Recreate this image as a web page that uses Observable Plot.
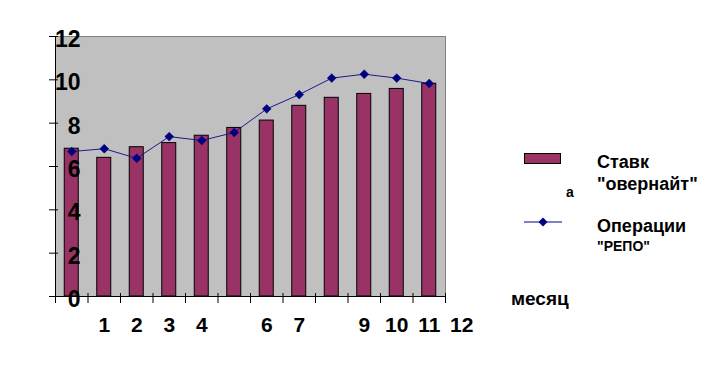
<!DOCTYPE html>
<html>
<head>
<meta charset="utf-8">
<script src="https://cdn.jsdelivr.net/npm/d3@7"></script>
<script src="https://cdn.jsdelivr.net/npm/@observablehq/plot@0.6"></script>
<style>
  html, body { margin: 0; padding: 0; background: #fff; }
  #wrap { position: relative; width: 707px; height: 389px; font-family: "Liberation Sans", Arial, sans-serif; font-weight: bold; color: #000; }
  .t { position: absolute; white-space: nowrap; line-height: 1; }
</style>
</head>
<body>
<div id="wrap"></div>
<script>
// ---- data ----
const months = [0, 1, 2, 3, 4, 5, 6, 7, 8, 9, 10, 11];
const overnight = [6.82, 6.40, 6.89, 7.08, 7.42, 7.78, 8.12, 8.80, 9.17, 9.35, 9.58, 9.82];
const repo = [6.69, 6.82, 6.38, 7.38, 7.20, 7.57, 8.66, 9.32, 10.08, 10.26, 10.08, 9.83];
const xTickLabels = [1, 2, 3, 4, 6, 7, 9, 10, 11, 12];
const yTicks = [0, 2, 4, 6, 8, 10, 12];
const seriesNames = ["Ставк", "\"овернайт\"", "Операции", "\"РЕПО\""];
const xTitle = "месяц";

const rows = months.map((m, i) => ({m, overnight: overnight[i], repo: repo[i]}));
const boundaries = d3.range(months.length + 1).map(i => i - 0.5);

const plot = Plot.plot({
  width: 707,
  height: 389,
  marginLeft: 55,
  marginRight: 262,
  marginTop: 36,
  marginBottom: 93,
  style: {background: "transparent", fontFamily: "Liberation Sans, Arial, sans-serif"},
  x: {type: "linear", domain: [-0.5, 11.5]},
  y: {domain: [0, 12]},
  marks: [
    Plot.frame({fill: "#c0c0c0", stroke: "#808080"}),
    Plot.rectY(rows, {x1: d => d.m - 0.5, x2: d => d.m + 0.5, y1: 0, y2: "overnight",
      fill: "#993366", stroke: "#000", strokeWidth: 1, insetLeft: 9.25, insetRight: 9.25}),
    Plot.ruleX([-0.5], {stroke: "#000"}),
    Plot.ruleY([0], {stroke: "#000"}),
    Plot.line(rows, {x: "m", y: "repo", stroke: "#1a1a8c", strokeWidth: 1}),
    Plot.dot(rows, {x: "m", y: "repo", symbol: "diamond2", r: 4, fill: "#000080", stroke: "#000080", strokeWidth: 0.5}),
    // y axis ticks (crossing the axis line) and labels
    Plot.axisY({ticks: yTicks, tickSize: 9, dx: 3, tickFormat: () => "", stroke: "#000"}),
    Plot.axisY({ticks: yTicks, tickSize: 0, tickPadding: -25, dy: 3, fontSize: 23, fontWeight: "bold", fill: "#000", label: null}),
    // x axis ticks at category boundaries
    Plot.axisX({ticks: boundaries, tickSize: 10, dy: -3, tickFormat: () => "", stroke: "#000", label: null}),
    // x labels
    Plot.text(xTickLabels, {x: d => d, frameAnchor: "bottom", dy: 35, text: d => String(d),
      fontSize: 21, fontWeight: "bold", fill: "#000"})
  ]
});

const wrap = document.getElementById("wrap");
wrap.appendChild(plot);

// axis title and legend overlay
wrap.insertAdjacentHTML("beforeend", `
  <div class="t" style="left:511px; top:289px; font-size:19px;">${xTitle}</div>
  <svg style="position:absolute; left:520px; top:148px;" width="50" height="85">
    <rect x="4.5" y="5.5" width="36" height="10" fill="#993366" stroke="#000" stroke-width="1"></rect>
    <line x1="4" x2="42" y1="74" y2="74" stroke="#8080c8" stroke-width="2"></line>
    <path d="M23,69.5 L27.5,74 L23,78.5 L18.5,74 Z" fill="#000080"></path>
  </svg>
  <div class="t" style="left:597px; top:153px; font-size:18px;">${seriesNames[0]}</div>
  <div class="t" style="left:597px; top:175px; font-size:18px;">${seriesNames[1]}</div>
  <div class="t" style="left:566px; top:185px; font-size:14px;">а</div>
  <div class="t" style="left:597px; top:217px; font-size:18px;">${seriesNames[2]}</div>
  <div class="t" style="left:597px; top:239px; font-size:14px;">${seriesNames[3]}</div>
`);
</script>
</body>
</html>
